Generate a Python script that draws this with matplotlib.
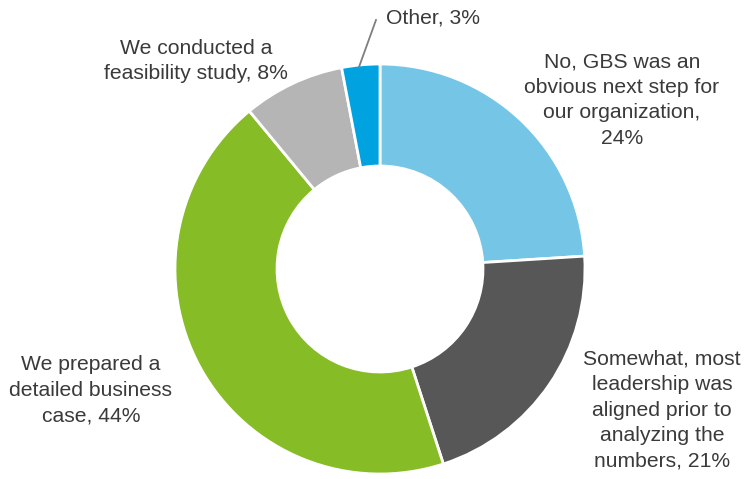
import matplotlib.pyplot as plt

labels = [
    "No, GBS was an\nobvious next step for\nour organization,\n24%",
    "Somewhat, most\nleadership was\naligned prior to\nanalyzing the\nnumbers, 21%",
    "We prepared a\ndetailed business\ncase, 44%",
    "We conducted a\nfeasibility study, 8%",
    "Other, 3%",
]
values = [24, 21, 44, 8, 3]
colors = ["#75C6E6", "#575757", "#86BC25", "#B5B5B5", "#00A3E0"]

# label centres in image pixels (x, y from top)
label_pos = [(622, 100), (662, 410), (91, 390), (196, 61), (386, 18)]

W, H = 748, 479
plt.rcParams['font.family'] = ['Liberation Sans', 'DejaVu Sans']

fig = plt.figure(figsize=(W / 100, H / 100), dpi=100)
ax = fig.add_axes([0, 0, 1, 1])

cx, cy, r = 380, 269, 205
ax.pie(values, colors=colors, startangle=90, counterclock=False,
       center=(cx, H - cy), radius=r, frame=True,
       wedgeprops=dict(width=102, edgecolor='white', linewidth=2))
ax.set_xlim(0, W)
ax.set_ylim(0, H)
ax.set_aspect('equal')
ax.axis('off')

for i, (txt, (x, y)) in enumerate(zip(labels, label_pos)):
    ha = 'left' if i == 4 else 'center'
    ax.text(x, H - y, txt, ha=ha, va='center', fontsize=15.2,
            color='#3A3A3A', linespacing=1.44)

# leader line for "Other"
ax.plot([376, 359], [H - 20, H - 67], color='#7F7F7F', linewidth=1.3)

fig.savefig('out.png', dpi=100)
